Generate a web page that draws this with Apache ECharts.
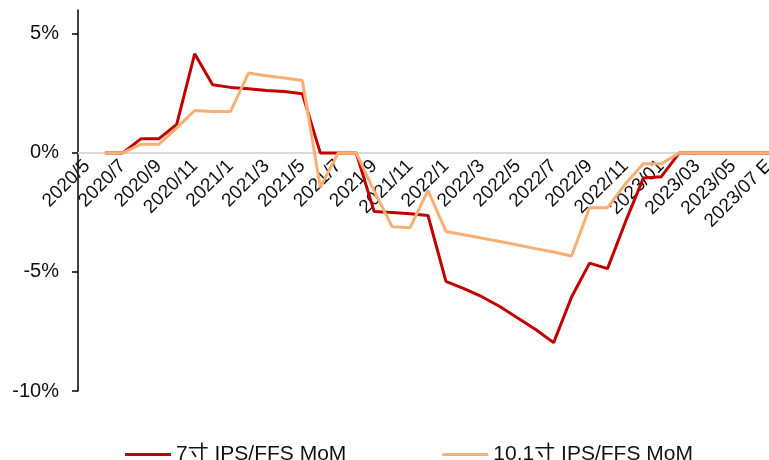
<!DOCTYPE html>
<html>
<head>
<meta charset="utf-8">
<script src="https://cdn.jsdelivr.net/npm/echarts@6/dist/echarts.min.js"></script>
<style>
  html, body { margin: 0; padding: 0; background: #fff; }
  #chart { width: 769px; height: 460px; }
</style>
</head>
<body>
<div id="chart"></div>
<script>
// 月份
const categories = [
  '2020/5', '2020/6', '2020/7', '2020/8', '2020/9', '2020/10', '2020/11', '2020/12',
  '2021/1', '2021/2', '2021/3', '2021/4', '2021/5', '2021/6', '2021/7', '2021/8',
  '2021/9', '2021/10', '2021/11', '2021/12', '2022/1', '2022/2', '2022/3', '2022/4',
  '2022/5', '2022/6', '2022/7', '2022/8', '2022/9', '2022/10', '2022/11', '2022/12',
  '2023/01', '2023/02', '2023/03', '2023/04', '2023/05', '2023/06', '2023/07 E'
]

// 7寸 IPS/FFS 环比 (%)
const mom7 = [
  '-', 0, 0, 0.59, 0.59, 1.2, 4.16, 2.86,
  2.75, 2.69, 2.62, 2.58, 2.48, 0, 0, 0,
  -2.46, -2.5, -2.56, -2.63, -5.4, -5.7, -6.04, -6.45,
  -6.93, -7.42, -7.97, -6.05, -4.63, -4.86, -2.9, -1.06,
  -1.0, 0, 0, 0, 0, 0, 0
]

// 10.1寸 IPS/FFS 环比 (%)
const mom101 = [
  '-', 0, 0, 0.36, 0.36, 1.05, 1.78, 1.74,
  1.74, 3.35, 3.24, 3.14, 3.04, -1.44, 0, 0,
  -1.6, -3.1, -3.14, -1.58, -3.3, -3.44, -3.58, -3.72,
  -3.87, -4.02, -4.16, -4.33, -2.3, -2.3, -1.3, -0.46,
  -0.46, 0, 0, 0, 0, 0, 0
]

const yTicks = [-10, -5, 0, 5]

const font = '"Liberation Sans", Arial, "Noto Sans CJK SC", sans-serif'

const chart = echarts.init(document.getElementById('chart'))

const option = {
  animation: false,
  backgroundColor: '#fff',
  grid: {
    left: 78,
    top: 10,
    width: 700,
    bottom: 69,
    containLabel: false,
    outerBoundsMode: 'none'
  },
  legend: {
    left: 120,
    top: 439,
    icon: 'rect',
    itemWidth: 46,
    itemHeight: 3,
    itemGap: 96,
    textStyle: {
      fontFamily: font,
      fontSize: 21,
      color: '#111'
    },
    data: ['7寸 IPS/FFS MoM', '10.1寸 IPS/FFS MoM']
  },
  xAxis: {
    type: 'category',
    data: categories,
    boundaryGap: true,
    position: 'bottom',
    // 轴线放在 0% 处（标签跟着走）
    offset: -238,
    axisLine: {
      onZero: false,
      lineStyle: { color: '#d9d9d9', width: 2 }
    },
    axisTick: { show: false },
    axisLabel: {
      interval: 1,
      rotate: 45,
      margin: 10,
      fontFamily: font,
      fontSize: 19,
      color: '#111'
    }
  },
  yAxis: {
    type: 'value',
    min: -10,
    max: 6,
    interval: 5,
    splitLine: { show: false },
    axisLine: {
      show: true,
      onZero: false,
      lineStyle: { color: '#000', width: 1.5 }
    },
    axisTick: {
      show: true,
      length: 6,
      customValues: yTicks,
      lineStyle: { color: '#000', width: 1.5 }
    },
    axisLabel: {
      customValues: yTicks,
      margin: 19,
      formatter: (v) => v + '%',
      fontFamily: font,
      fontSize: 20,
      color: '#111'
    }
  },
  series: [
    {
      name: '7寸 IPS/FFS MoM',
      type: 'line',
      data: mom7,
      showSymbol: false,
      color: '#c00000',
      lineStyle: { width: 3, color: '#c00000' }
    },
    {
      name: '10.1寸 IPS/FFS MoM',
      type: 'line',
      data: mom101,
      showSymbol: false,
      color: '#f9ae74',
      lineStyle: { width: 3, color: '#f9ae74' }
    }
  ]
}

chart.setOption(option)
</script>
</body>
</html>
